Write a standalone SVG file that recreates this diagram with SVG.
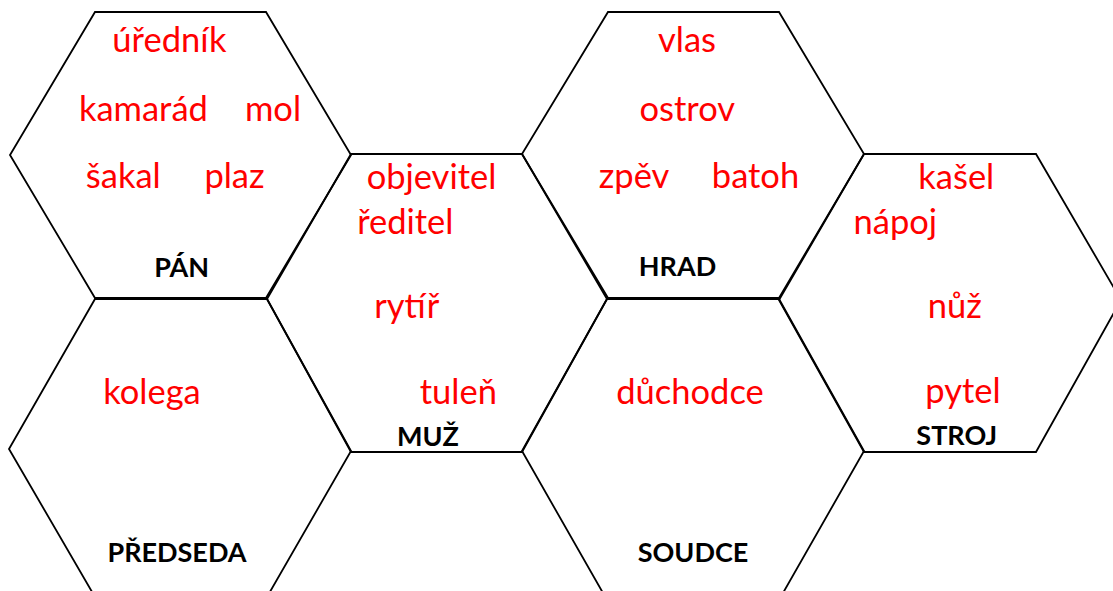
<svg xmlns="http://www.w3.org/2000/svg" width="1113" height="591" viewBox="0 0 1113 591">
<style>
.hex{fill:none;stroke:#000;stroke-width:1.8;stroke-linejoin:miter}
.w{font-family:Lato,"Liberation Sans",sans-serif;font-size:34.5px;fill:#ff0000;text-anchor:middle}
.t{font-family:Lato,"Liberation Sans",sans-serif;font-size:27px;font-weight:bold;fill:#000;text-anchor:middle}
</style>
<rect width="1113" height="591" fill="#fff"/>
<g id="pan">
<polygon class="hex" points="95,12 266,12 351,155 266,298 95,298 10,155"/>
<text class="w" x="169.5" y="52">úředník</text>
<text class="w" x="143.4" y="121">kamarád</text>
<text class="w" x="273" y="121">mol</text>
<text class="w" x="123.3" y="188">šakal</text>
<text class="w" x="234.5" y="188">plaz</text>
<text class="t" x="181.7" y="277">PÁN</text>
</g>
<g id="muz">
<polygon class="hex" points="351,154 522,154 607,299 522,452 351,452 267,299"/>
<text class="w" x="431.5" y="189">objevitel</text>
<text class="w" x="405.3" y="234">ředitel</text>
<text class="w" x="406.7" y="318">rytíř</text>
<text class="w" x="458.3" y="404">tuleň</text>
<text class="t" x="428" y="446">MUŽ</text>
</g>
<g id="hrad">
<polygon class="hex" points="608,12 779,12 864,154 779,298 608,298 522,154"/>
<text class="w" x="687" y="52">vlas</text>
<text class="w" x="687.3" y="121">ostrov</text>
<text class="w" x="634" y="188">zpěv</text>
<text class="w" x="755.5" y="188">batoh</text>
<text class="t" x="677.5" y="276">HRAD</text>
</g>
<g id="stroj">
<polygon class="hex" points="864,154 1036,154 1121,300 1036,452 864,452 779,300"/>
<text class="w" x="956.3" y="189">kašel</text>
<text class="w" x="895.3" y="234">nápoj</text>
<text class="w" x="954.7" y="318">nůž</text>
<text class="w" x="963" y="403">pytel</text>
<text class="t" x="956.7" y="445">STROJ</text>
</g>
<g id="predseda">
<polygon class="hex" points="95,299 267,299 351,451 267,597 95,597 9,449"/>
<text class="w" x="152" y="404">kolega</text>
<text class="t" x="177" y="562">PŘEDSEDA</text>
</g>
<g id="soudce">
<polygon class="hex" points="607,299 779,299 864,451 779,600 607,600 522,451"/>
<text class="w" x="690" y="404">důchodce</text>
<text class="t" x="693" y="562">SOUDCE</text>
</g>
<g id="connectors"></g>
</svg>
